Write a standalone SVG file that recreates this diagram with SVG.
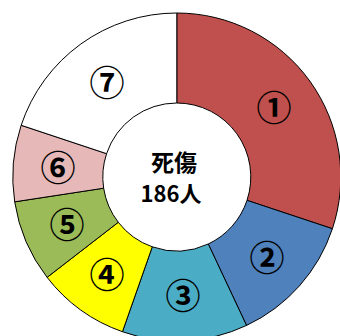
<svg xmlns="http://www.w3.org/2000/svg" width="340" height="336" viewBox="0 0 340 336">
<style>
.s{stroke:#000;stroke-width:1}
.n{font-family:"Noto Sans CJK JP","Noto Sans CJK SC",sans-serif;font-size:35px;font-weight:bold;text-anchor:middle;dominant-baseline:central;fill:#000}
.c{font-family:"Noto Sans CJK JP","Noto Sans CJK SC",sans-serif;font-weight:bold;text-anchor:middle;fill:#000}
</style>
<rect width="340" height="336" fill="#fff"/>
<g id="slice1"><path class="s" fill="#C0504D" d="M176.8,13 A164,164 0 0 1 332.42,228.73 L247.02,200.34 A74,74 0 0 0 176.8,103 Z"/><text class="n" x="274" y="105.5">①</text></g>
<g id="slice2"><path class="s" fill="#4F81BD" d="M332.42,228.73 A164,164 0 0 1 246.53,325.44 L208.26,243.98 A74,74 0 0 0 247.02,200.34 Z"/><text class="n" x="267" y="255.5">②</text></g>
<g id="slice3"><path class="s" fill="#4BACC6" d="M246.53,325.44 A164,164 0 0 1 122.45,331.73 L152.27,246.82 A74,74 0 0 0 208.26,243.98 Z"/><text class="n" x="183" y="293">③</text></g>
<g id="slice4"><path class="s" fill="#FFFF00" d="M122.45,331.73 A164,164 0 0 1 47.10,277.37 L118.27,222.29 A74,74 0 0 0 152.27,246.82 Z"/><text class="n" x="107" y="272.5">④</text></g>
<g id="slice5"><path class="s" fill="#9BBB59" d="M47.10,277.37 A164,164 0 0 1 14.69,201.83 L103.65,188.21 A74,74 0 0 0 118.27,222.29 Z"/><text class="n" x="67" y="222.5">⑤</text></g>
<g id="slice6"><path class="s" fill="#E6B9B8" d="M14.69,201.83 A164,164 0 0 1 21.18,125.27 L106.58,153.66 A74,74 0 0 0 103.65,188.21 Z"/><text class="n" x="58" y="165.5">⑥</text></g>
<g id="slice7"><path class="s" fill="#FFFFFF" d="M21.18,125.27 A164,164 0 0 1 176.8,13 L176.8,103 A74,74 0 0 0 106.58,153.66 Z"/><text class="n" x="107" y="80.5">⑦</text></g>
<g id="center"><text class="c" x="174" y="171" font-size="23">死傷</text><text class="c" x="171" y="202" font-size="22">186人</text></g>
<g id="connectors"/>
</svg>
